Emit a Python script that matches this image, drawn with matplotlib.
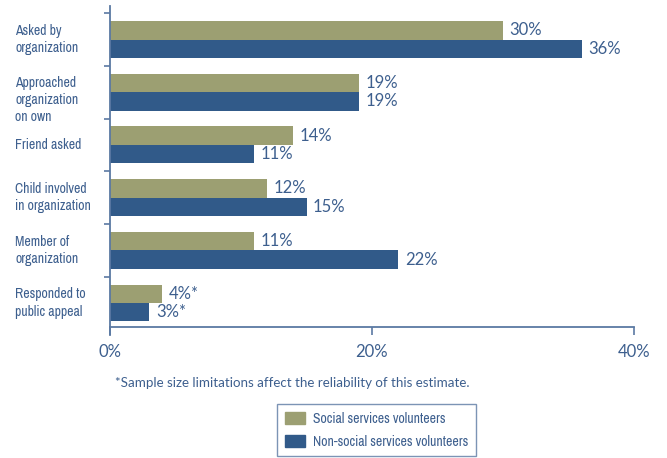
import matplotlib.pyplot as plt
from matplotlib import font_manager
from matplotlib.patches import Patch
from matplotlib.transforms import blended_transform_factory

# reasons for volunteering, top to bottom
categories = ["Asked by\norganization", "Approached\norganization\non own", "Friend asked",
              "Child involved\nin organization", "Member of\norganization", "Responded to\npublic appeal"]
social = [30, 19, 14, 12, 11, 4]
non_social = [36, 19, 11, 15, 22, 3]
social_labels = ["30%", "19%", "14%", "12%", "11%", "4%*"]
non_social_labels = ["36%", "19%", "11%", "15%", "22%", "3%*"]
x_ticks = [0, 20, 40]
x_tick_labels = ["0%", "20%", "40%"]

GREEN = "#9c9f72"
BLUE = "#315a89"
TEXT = "#3d5f8e"
AXIS = "#5b79a3"
VALUE_FONT = ["Lato", "DejaVu Sans"]


def narrow_family():
    '''pick a condensed sans face if one is installed'''
    for f in font_manager.fontManager.ttflist:
        name = f.name.lower()
        if ("narrow" in name or "condensed" in name) and "bold" not in f.style and f.weight in (400, "normal", "regular"):
            return [f.name, "DejaVu Sans"]
    for f in font_manager.fontManager.ttflist:
        if f.stretch in ("condensed", "semi-condensed") and f.weight in (400, "normal", "regular"):
            return [f.name, "DejaVu Sans"]
    return None


NARROW = narrow_family()
if NARROW is None:
    NARROW = ["Roboto", "DejaVu Sans"]
    cat_size = 9.0
else:
    cat_size = 9.9

fig = plt.figure(figsize=(6.67, 4.58), dpi=100)
ax = fig.add_axes([110 / 667, 1 - 327 / 458, 524 / 667, 321 / 458])

n = len(categories)
bar_h = 0.35
label_tf = blended_transform_factory(fig.transFigure, ax.transData)
for i in range(n):
    center = n - 0.5 - i
    ax.barh(center + bar_h / 2, social[i], height=bar_h, color=GREEN)
    ax.barh(center - bar_h / 2, non_social[i], height=bar_h, color=BLUE)
    ax.text(social[i] + 0.5, center + bar_h / 2, social_labels[i], va="center", ha="left",
            color=TEXT, fontsize=12, family=VALUE_FONT)
    ax.text(non_social[i] + 0.5, center - bar_h / 2, non_social_labels[i], va="center", ha="left",
            color=TEXT, fontsize=12, family=VALUE_FONT)
    # category label sits at the left edge of the figure
    shift = -0.15 if categories[i].count("\n") == 2 else 0
    ax.text(15 / 667, center + shift, categories[i], transform=label_tf, ha="left", va="center",
            color=TEXT, fontsize=cat_size, family=NARROW, linespacing=1.3)

ax.set_xlim(0, 40)
ax.set_ylim(0.045, 6.136)
ax.set_xticks(x_ticks)
ax.set_xticklabels(x_tick_labels, family=VALUE_FONT, fontsize=12, color=TEXT)
ax.set_yticks(range(1, n + 1))
ax.set_yticklabels([])
ax.tick_params(axis="x", direction="out", length=6, width=1.2, color=AXIS, pad=6)
ax.tick_params(axis="y", direction="out", length=4, width=1.2, color=AXIS)
for side in ["top", "right"]:
    ax.spines[side].set_visible(False)
for side in ["left", "bottom"]:
    ax.spines[side].set_color(AXIS)
    ax.spines[side].set_linewidth(1.3)
ax.spines["left"].set_bounds(-0.11, 6.136)

fig.text(115 / 667, 1 - 383 / 458, "*Sample size limitations affect the reliability of this estimate.",
         ha="left", va="center", color=TEXT, fontsize=9.6, family=VALUE_FONT)

handles = [Patch(color=GREEN, label="Social services volunteers"),
           Patch(color=BLUE, label="Non-social services volunteers")]
leg = fig.legend(handles=handles, loc="upper left", bbox_to_anchor=(277 / 667, 1 - 404 / 458),
                 frameon=True, fancybox=False, edgecolor=AXIS, handlelength=1.45, handleheight=1.0,
                 prop={"family": NARROW, "size": cat_size}, borderpad=0.55, labelspacing=0.65,
                 handletextpad=0.6, borderaxespad=0)
leg.get_frame().set_linewidth(1.0)
for t in leg.get_texts():
    t.set_color(TEXT)

fig.savefig("out.png", dpi=100)
